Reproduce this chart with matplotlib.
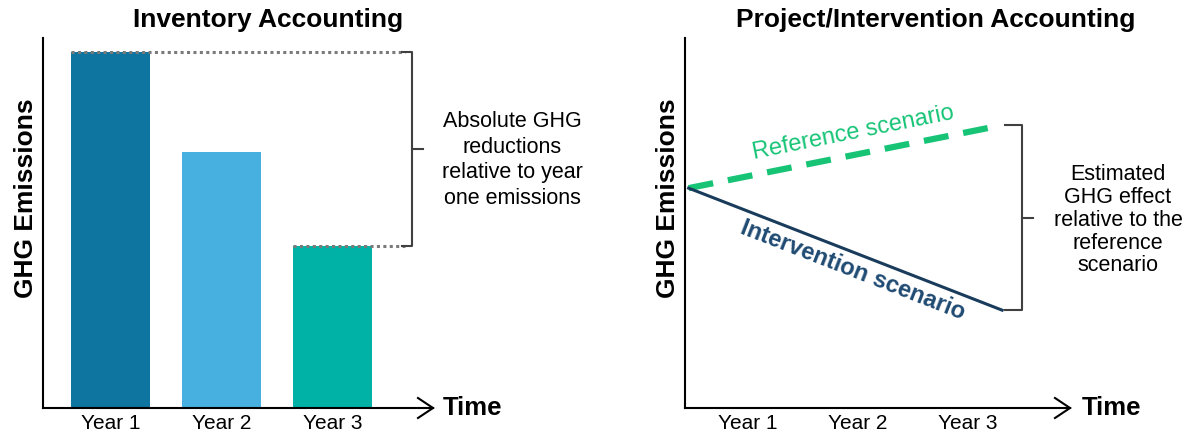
import numpy as np
import matplotlib
matplotlib.use("Agg")
import matplotlib.pyplot as plt

plt.rcParams["font.family"] = ["Liberation Sans", "DejaVu Sans"]

# ---- data ----
years = ["Year 1", "Year 2", "Year 3"]
inventory_values = [100, 72, 45.5]
bar_colors = ["#0e74a0", "#48b0e0", "#00b1a6"]

scenario_x = [-0.54, 2.31]
reference_values = [61.8, 79.5]
intervention_values = [61.8, 27.5]

GREEN = "#17c476"
NAVY = "#1a3c5c"
NAVY_TEXT = "#1f4a72"
BRACKET = "#404040"

W, H = 1195, 436
fig = plt.figure(figsize=(W / 100, H / 100), dpi=100)


def px_axes(x0, x1, ytop, ybot):
    return fig.add_axes([x0 / W, 1 - ybot / H, (x1 - x0) / W, (ybot - ytop) / H])


def style_axes(ax, xlim):
    ax.set_xlim(*xlim)
    ax.set_ylim(0, 104)
    for s in ["top", "right"]:
        ax.spines[s].set_visible(False)
    for s in ["left", "bottom"]:
        ax.spines[s].set_linewidth(1.5)
    ax.set_yticks([])
    ax.set_xticks(range(len(years)))
    ax.set_xticklabels(years, fontsize=15)
    ax.tick_params(axis="x", length=0, pad=4)
    # open arrow head at the end of the x axis
    bb = ax.get_window_extent()
    dx, dy = 15 / bb.width, 10 / bb.height
    ax.plot([1 - dx, 1, 1 - dx], [dy, 0, -dy], transform=ax.transAxes,
            color="black", lw=1.5, clip_on=False, solid_joinstyle="miter")


def bracket(ax, x_cap, x_line, x_tick, y_top, y_bot):
    ax.plot([x_cap, x_line, x_line, x_cap], [y_top, y_top, y_bot, y_bot],
            color=BRACKET, lw=1.5, clip_on=False)
    ym = (y_top + y_bot) / 2
    ax.plot([x_line, x_tick], [ym, ym], color=BRACKET, lw=1.5, clip_on=False)


def line_angle(ax, xs, ys):
    p = ax.transData.transform(np.column_stack([xs, ys]))
    return np.degrees(np.arctan2(p[1, 1] - p[0, 1], p[1, 0] - p[0, 0]))


# ---- left: inventory accounting ----
ax1 = px_axes(43, 433, 38, 408)
style_axes(ax1, (-0.608, 2.905))
ax1.bar(range(len(years)), inventory_values, width=0.72, color=bar_colors)

ax1.plot([-0.36, 2.65], [inventory_values[0]] * 2, color="#7a7a7a",
         lw=2.2, ls=(0, (1, 1.1)), clip_on=False)
ax1.plot([1.64, 2.65], [inventory_values[2]] * 2, color="#7a7a7a",
         lw=2.2, ls=(0, (1, 1.1)), clip_on=False)
bracket(ax1, 2.626, 2.716, 2.815, inventory_values[0], inventory_values[2])
ax1.text(3.617, 69.7, "Absolute GHG\nreductions\nrelative to year\none emissions",
         ha="center", va="center", fontsize=15.5, linespacing=1.3, clip_on=False)
ax1.text(2.99, 0, "Time", ha="left", va="center", fontsize=18.5,
         fontweight="bold", clip_on=False)

# ---- right: project/intervention accounting ----
ax2 = px_axes(685, 1070, 38, 408)
style_axes(ax2, (-0.573, 2.927))
ax2.plot(scenario_x, reference_values, color=GREEN, lw=4.5,
         ls=(0, (4, 2.4)), solid_capstyle="butt")
ax2.plot(scenario_x, intervention_values, color=NAVY, lw=2.2)

bracket(ax2, 2.336, 2.491, 2.591, reference_values[-1], intervention_values[-1])
ax2.text(3.363, 52.8, "Estimated\nGHG effect\nrelative to the\nreference\nscenario",
         ha="center", va="center", fontsize=15.5, linespacing=1.12, clip_on=False)
ax2.text(3.036, 0, "Time", ha="left", va="center", fontsize=18.5,
         fontweight="bold", clip_on=False)

ax2.text(0.954, 77.3, "Reference scenario", color=GREEN, fontsize=17,
         rotation=line_angle(ax2, scenario_x, reference_values),
         ha="center", va="center", rotation_mode="anchor")
ax2.text(0.954, 38.8, "Intervention scenario", color=NAVY_TEXT, fontsize=17,
         fontweight="bold",
         rotation=line_angle(ax2, scenario_x, intervention_values),
         ha="center", va="center", rotation_mode="anchor")

# ---- titles and y labels ----
fig.text(268 / W, 1 - 20 / H, "Inventory Accounting", ha="center", va="center",
         fontsize=19, fontweight="bold")
fig.text(936 / W, 1 - 20 / H, "Project/Intervention Accounting", ha="center",
         va="center", fontsize=19, fontweight="bold")
fig.text(26 / W, 1 - 198 / H, "GHG Emissions", rotation=90, ha="center",
         va="center", fontsize=19, fontweight="bold")
fig.text(668 / W, 1 - 198 / H, "GHG Emissions", rotation=90, ha="center",
         va="center", fontsize=19, fontweight="bold")

fig.savefig("out.png", dpi=100)
